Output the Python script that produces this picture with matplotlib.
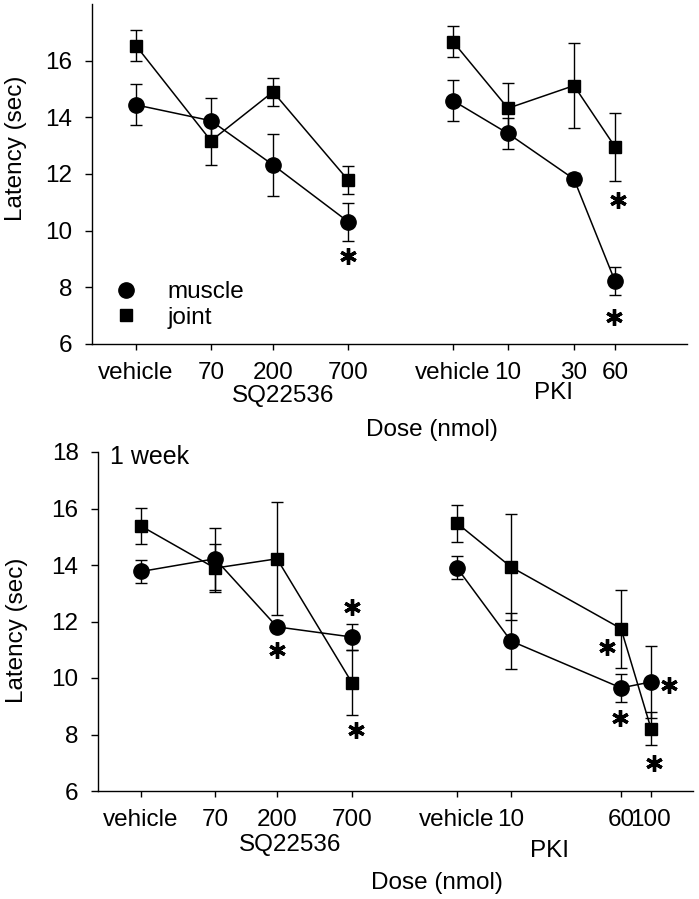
import matplotlib
matplotlib.use("Agg")
import matplotlib.pyplot as plt
from matplotlib.lines import Line2D

plt.rcParams["font.family"] = ["Liberation Sans", "DejaVu Sans"]
plt.rcParams["font.size"] = 17.5

# --- data (latency, sec) ---
sq_doses = ["vehicle", "70", "200", "700"]
pki_doses_acute = ["vehicle", "10", "30", "60"]
pki_doses_week = ["vehicle", "10", "60", "100"]

# acute (top panel)
top_sq_muscle = [14.44, 13.88, 12.32, 10.32]
top_sq_muscle_err = [0.72, 0.80, 1.10, 0.67]
top_sq_joint = [16.53, 13.17, 14.90, 11.79]
top_sq_joint_err = [0.55, 0.85, 0.50, 0.50]
top_pki_muscle = [14.59, 13.43, 11.82, 8.22]
top_pki_muscle_err = [0.73, 0.55, 0.20, 0.50]
top_pki_joint = [16.67, 14.32, 15.12, 12.96]
top_pki_joint_err = [0.55, 0.90, 1.50, 1.20]

# 1 week (bottom panel)
bot_sq_muscle = [13.77, 14.22, 11.81, 11.45]
bot_sq_muscle_err = [0.40, 1.10, 0.15, 0.45]
bot_sq_joint = [15.38, 13.89, 14.22, 9.83]
bot_sq_joint_err = [0.65, 0.85, 2.00, 1.15]
bot_pki_muscle = [13.90, 11.31, 9.65, 9.86]
bot_pki_muscle_err = [0.41, 0.99, 0.49, 1.26]
bot_pki_joint = [15.48, 13.93, 11.75, 8.21]
bot_pki_joint_err = [0.65, 1.88, 1.38, 0.59]

# significance stars (x on the axis scale, y latency)
top_star_x = [256, 526, 522]
top_star_y = [9.10, 11.08, 6.96]
bot_star_x = [179, 254, 258, 509, 522, 571, 556]
bot_star_y = [10.98, 12.51, 8.16, 11.10, 8.58, 9.75, 6.99]

# tick positions along each x axis (layout only)
top_sq_x = [44, 119, 181, 256]
top_pki_x = [361, 416, 482, 523]
bot_sq_x = [43, 117, 179, 254]
bot_pki_x = [359, 413, 523, 553]

W, H = 699, 899
fig = plt.figure(figsize=(W / 100, H / 100), dpi=100)
ax1 = fig.add_axes([92 / W, 1 - 344 / H, 595 / W, 340 / H])
ax2 = fig.add_axes([98 / W, 1 - 791 / H, 595 / W, 339 / H])

ekw = dict(color="black", ecolor="black", lw=1.1, elinewidth=1.0,
           capsize=4, capthick=1.0, mfc="black", mec="black")


def series(ax, x, y, e, marker, ms):
    ax.errorbar(x, y, yerr=e, fmt="-" + marker, ms=ms, **ekw)


def style(ax, xpos, xlabels, xmax, yticks):
    for s in ("top", "right"):
        ax.spines[s].set_visible(False)
    for s in ("left", "bottom"):
        ax.spines[s].set_linewidth(1.0)
    ax.set_xlim(0, xmax)
    ax.set_ylim(6, 18)
    ax.set_xticks(xpos)
    ax.set_xticklabels(xlabels)
    ax.set_yticks(yticks)
    ax.tick_params(direction="out", width=1, labelsize=17.5)
    ax.tick_params(axis="x", length=4, pad=9)
    ax.tick_params(axis="y", length=5, pad=9)


# top panel
series(ax1, top_sq_x, top_sq_muscle, top_sq_muscle_err, "o", 11)
series(ax1, top_sq_x, top_sq_joint, top_sq_joint_err, "s", 9)
series(ax1, top_pki_x, top_pki_muscle, top_pki_muscle_err, "o", 11)
series(ax1, top_pki_x, top_pki_joint, top_pki_joint_err, "s", 9)
ax1.plot(top_star_x, top_star_y, ls="none", marker=(6, 2, 0), ms=12,
         mew=2.4, color="black")
style(ax1, top_sq_x + top_pki_x, sq_doses + pki_doses_acute, 595,
      [6, 8, 10, 12, 14, 16])
ax1.set_ylabel("Latency (sec)", fontsize=17.5)
ax1.yaxis.set_label_coords(-0.11, 0.576)
tr1 = ax1.get_xaxis_transform()
ax1.text(191, -0.152, "SQ22536", transform=tr1, ha="center", va="center")
ax1.text(461, -0.145, "PKI", transform=tr1, ha="center", va="center")
handles = [Line2D([], [], ls="none", marker="o", ms=11, color="black"),
           Line2D([], [], ls="none", marker="s", ms=9, color="black")]
ax1.legend(handles, ["muscle", "joint"], loc="lower left",
           bbox_to_anchor=(0.0, -0.02), frameon=False, handletextpad=1.2,
           labelspacing=0.15, fontsize=17.5, handlelength=1.0)

# bottom panel
series(ax2, bot_sq_x, bot_sq_muscle, bot_sq_muscle_err, "o", 11)
series(ax2, bot_sq_x, bot_sq_joint, bot_sq_joint_err, "s", 9)
series(ax2, bot_pki_x, bot_pki_muscle, bot_pki_muscle_err, "o", 11)
series(ax2, bot_pki_x, bot_pki_joint, bot_pki_joint_err, "s", 9)
ax2.plot(bot_star_x, bot_star_y, ls="none", marker=(6, 2, 0), ms=12,
         mew=2.4, color="black")
style(ax2, bot_sq_x + bot_pki_x, sq_doses + pki_doses_week, 595,
      [6, 8, 10, 12, 14, 16, 18])
ax2.set_ylabel("Latency (sec)", fontsize=17.5)
ax2.yaxis.set_label_coords(-0.118, 0.475)
ax2.text(0.02, 0.985, "1 week", transform=ax2.transAxes, ha="left",
         va="center", fontsize=18)
tr2 = ax2.get_xaxis_transform()
ax2.text(192, -0.158, "SQ22536", transform=tr2, ha="center", va="center")
ax2.text(452, -0.176, "PKI", transform=tr2, ha="center", va="center")

fig.text(432 / W, 1 - 430 / H, "Dose (nmol)", ha="center", va="center",
         fontsize=17.5)
fig.text(437 / W, 1 - 883 / H, "Dose (nmol)", ha="center", va="center",
         fontsize=17.5)

fig.savefig("out.png", dpi=100, facecolor="white")
